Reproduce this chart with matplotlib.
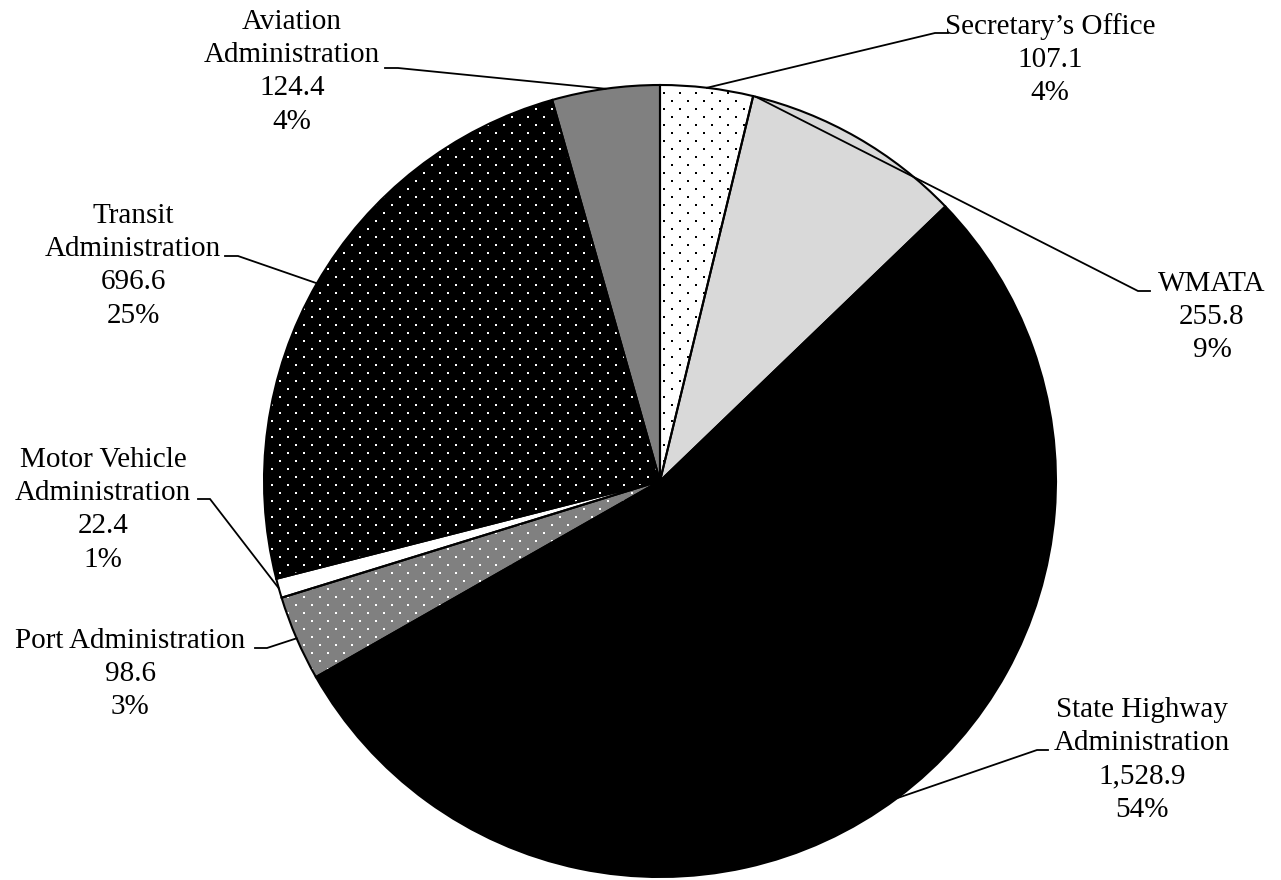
import numpy as np
import matplotlib
matplotlib.use("Agg")
import matplotlib.pyplot as plt
from matplotlib.patches import Wedge

# ---- data ----
names = ["Secretary\u2019s Office", "WMATA", "State Highway\nAdministration",
         "Port Administration", "Motor Vehicle\nAdministration",
         "Transit\nAdministration", "Aviation\nAdministration"]
values = [107.1, 255.8, 1528.9, 98.6, 22.4, 696.6, 124.4]
value_labels = ["107.1", "255.8", "1,528.9", "98.6", "22.4", "696.6", "124.4"]
pct_labels = ["4%", "9%", "54%", "3%", "1%", "25%", "4%"]

# ---- styles ----
face_colors = ["white", "#d9d9d9", "black", "#808080", "white", "black", "#808080"]
dot_colors = ["black", None, None, "white", None, "white", None]

W, H = 1281, 880
CX, CY, R = 660, 481, 396

fig = plt.figure(figsize=(W / 100, H / 100), dpi=100)
ax = fig.add_axes([0, 0, 1, 1])

def Y(y):
    return H - y

wedges, _ = ax.pie(values, colors=face_colors, startangle=90, counterclock=False,
                   center=(CX, Y(CY)), radius=R,
                   wedgeprops=dict(edgecolor="none", linewidth=0))
ax.set_xlim(0, W)
ax.set_ylim(0, H)
ax.set_aspect("equal")
ax.axis("off")

# dot textures
xs, ys = [], []
for row, yy in enumerate(np.arange(CY - R - 8, CY + R + 8, 8)):
    off = 0 if row % 2 == 0 else 8
    for xx in np.arange(CX - R - 16 + off, CX + R + 16, 16):
        xs.append(xx)
        ys.append(Y(yy))
xs = np.array(xs); ys = np.array(ys)
for w, dc in zip(wedges, dot_colors):
    w.set_zorder(2)
    if dc is None:
        continue
    sc = ax.scatter(xs, ys, s=2.2, marker="s", color=dc, linewidths=0, zorder=3)
    sc.set_clip_path(w)
for w in wedges:
    e = Wedge(w.center, w.r, w.theta1, w.theta2, facecolor="none",
              edgecolor="black", linewidth=1.5, zorder=4)
    ax.add_patch(e)

# label layout (pixel positions)
label_cx = [1050, 1212, 1142, 130, 103, 133, 292]
label_base = [34, 291, 717, 648, 467, 223, 29]
pitch = 33.2
leaders = [
    (948, 935, 33, "mid"),
    (1150, 1138, 291, "start"),
    (1048, 1037, 750, "mid"),
    (255, 267, 648, "mid"),
    (198, 210, 499, "mid"),
    (225, 238, 256, "mid"),
    (385, 398, 68, "mid"),
]

font = dict(family="Liberation Serif", size=21, color="black")

total = sum(values)
angle = 0.0
for i, v in enumerate(values):
    span = 360 * v / total
    a = angle + span / 2 if leaders[i][3] == "mid" else angle + 0.4
    angle += span
    lines = names[i].split("\n") + [value_labels[i], pct_labels[i]]
    for k, t in enumerate(lines):
        ax.text(label_cx[i], Y(label_base[i] + k * pitch), t, ha="center",
                va="baseline", **font)
    x0, x1, yl, _ = leaders[i]
    px = CX + R * np.sin(np.radians(a))
    py = CY - R * np.cos(np.radians(a))
    ax.plot([x0, x1, px], [Y(yl), Y(yl), Y(py)], color="black", lw=1.3,
            solid_joinstyle="miter", zorder=5)

fig.savefig("out.png", dpi=100)
